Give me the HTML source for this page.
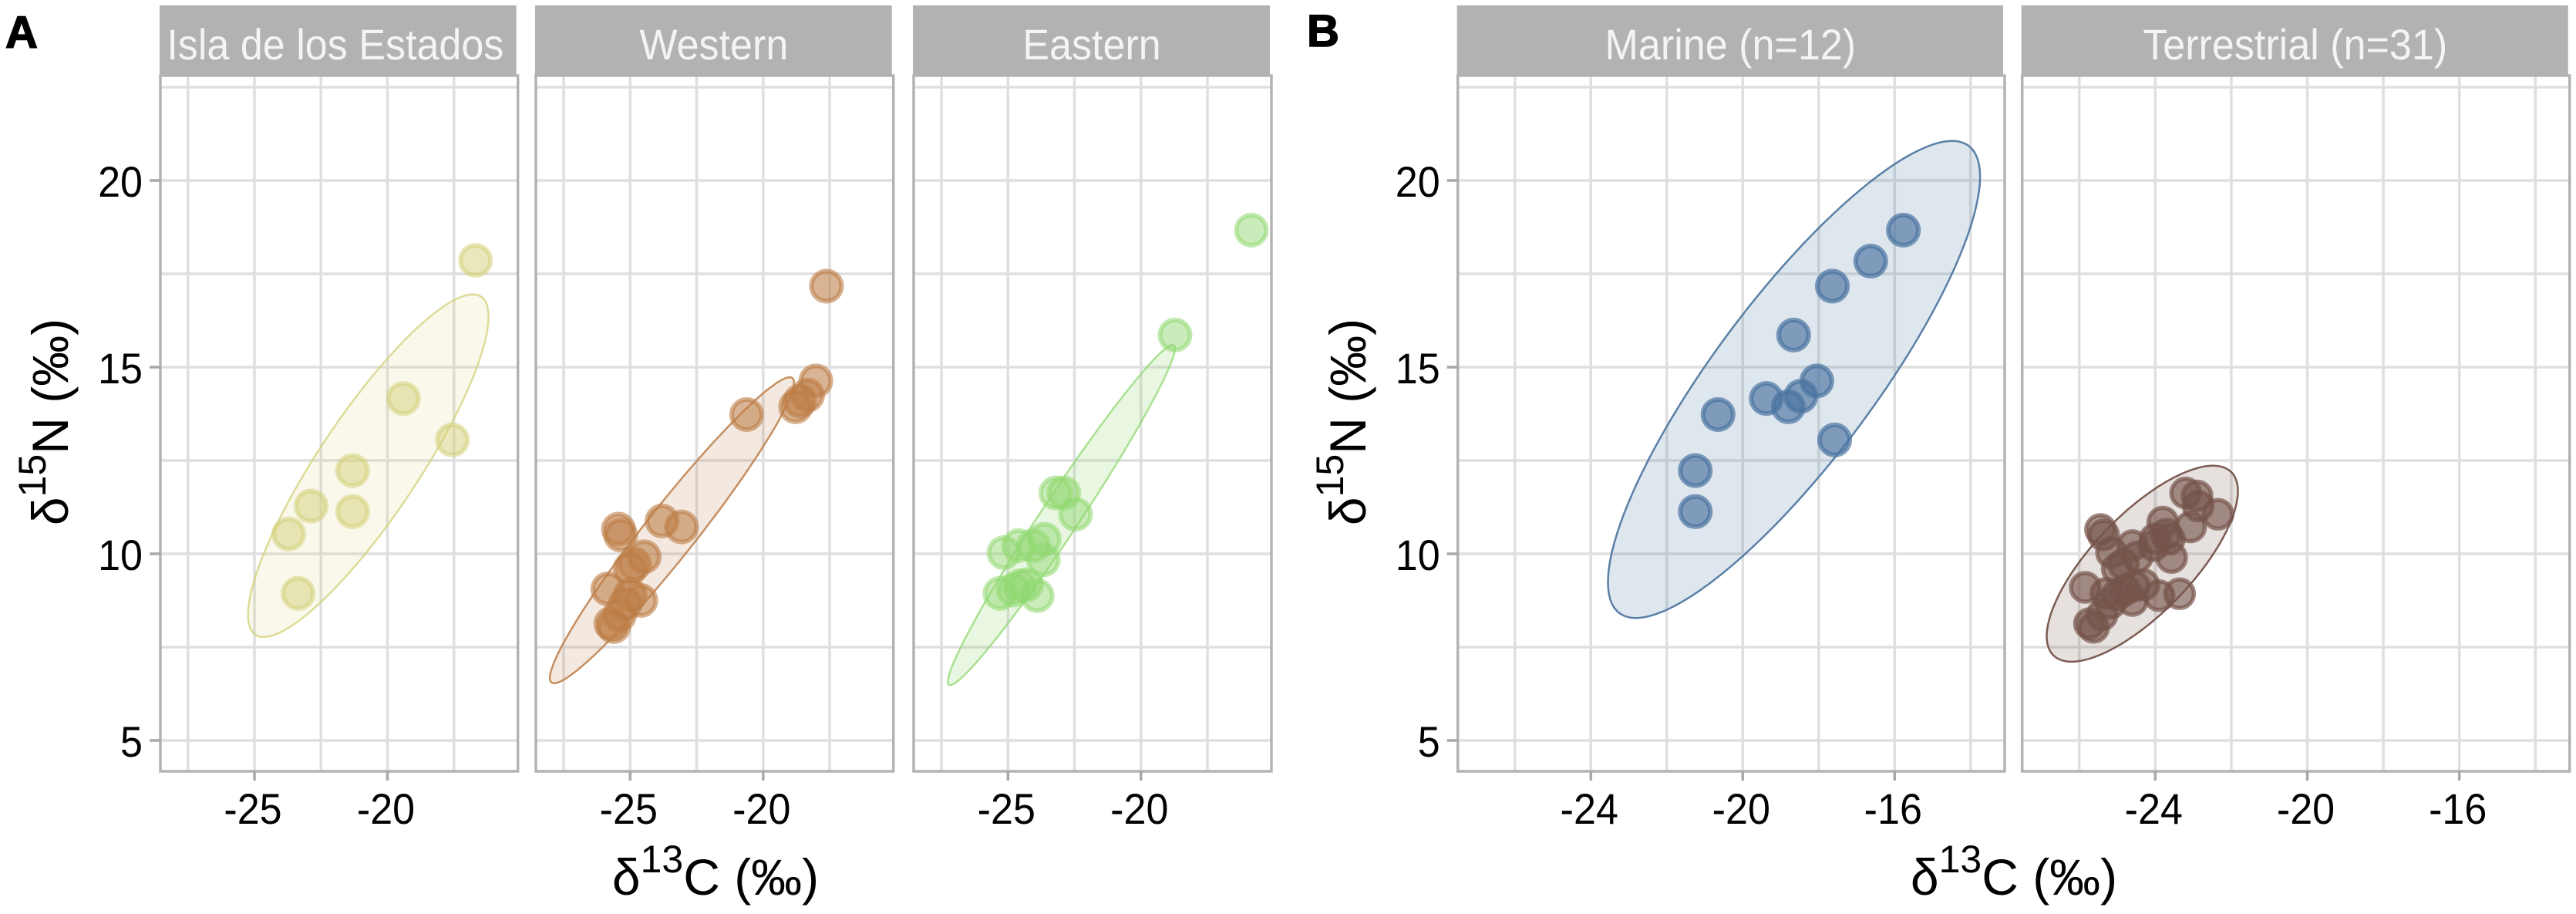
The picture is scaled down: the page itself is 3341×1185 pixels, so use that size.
<!DOCTYPE html>
<html>
<head>
<meta charset="utf-8">
<title>Stable isotope biplots</title>
<style>
html,body{margin:0;padding:0;background:#fff;}
svg{display:block;}
text{font-family:"Liberation Sans",sans-serif;}
</style>
</head>
<body>
<svg id="chart" xmlns="http://www.w3.org/2000/svg" width="3341" height="1185" viewBox="0 0 3341 1185">
<rect x="0" y="0" width="3341" height="1185" fill="#fff"/>
<g id="plots"></g>
<text x="7" y="62" font-size="58" font-weight="bold" fill="#000" stroke="#000" stroke-width="1.5">A</text>
<text x="1695" y="60" font-size="58" font-weight="bold" fill="#000" stroke="#000" stroke-width="1.5">B</text>
<text transform="translate(88,547) rotate(-90)" text-anchor="middle" font-size="66" fill="#000">δ<tspan font-size="50" dy="-29">15</tspan><tspan dy="29">N (‰)</tspan></text>
<text transform="translate(1771,547) rotate(-90)" text-anchor="middle" font-size="66" fill="#000">δ<tspan font-size="50" dy="-29">15</tspan><tspan dy="29">N (‰)</tspan></text>
<text x="928" y="1160" text-anchor="middle" font-size="66" fill="#000">δ<tspan font-size="50" dy="-29">13</tspan><tspan dy="29">C (‰)</tspan></text>
<text x="2612" y="1160" text-anchor="middle" font-size="66" fill="#000">δ<tspan font-size="50" dy="-29">13</tspan><tspan dy="29">C (‰)</tspan></text>
</svg>
<script>
// Data (per mil)
const islaC = [-16.69,-19.4,-17.56,-21.31,-21.31,-22.87,-23.71,-23.36];
const islaN = [17.86,14.16,13.05,12.23,11.13,11.28,10.53,8.94];
const islaEllipse = [-20.72,12.36,4.52,4.59,0.87];

const westernC = [-17.62,-18.02,-18.33,-18.62,-18.78,-20.62,-23.8,-23.07,-25.44,-25.36,-24.47,-24.84,-25,-25.84,-24.6,-25,-25.18,-25.4,-25.73,-25.62];
const westernN = [17.17,14.63,14.25,14.09,13.94,13.73,10.88,10.72,10.66,10.5,9.92,9.72,9.6,9.06,8.75,8.9,8.67,8.36,8.13,8.05];
const westernEllipse = [-23.43,10.63,4.59,4.1,0.965];

const easternC = [-15.85,-18.72,-23.2,-22.9,-22.46,-25.15,-24.6,-24.04,-23.63,-23.67,-25.3,-24.8,-24.55,-24.3,-23.9];
const easternN = [18.67,15.86,11.63,11.63,11.06,10.03,10.22,10.22,10.39,9.84,8.94,9.03,9.14,9.17,8.88];
const easternEllipse = [-22.99,11.04,4.27,4.56,0.98];

const marineC = [-15.77,-16.63,-17.64,-18.66,-18.05,-18.47,-18.8,-19.38,-20.65,-17.58,-21.25,-21.25];
const marineN = [18.67,17.84,17.17,15.86,14.63,14.22,13.94,14.16,13.73,13.05,12.23,11.13];
const marineEllipse = [-18.65,14.67,4.9,6.39,0.85];

const terrestrialC = [-22.87,-23.71,-23.36,-23.8,-23.07,-25.44,-25.36,-24.47,-24.84,-25,-25.84,-24.6,-25,-25.18,-25.4,-25.73,-25.62,-23.2,-22.9,-22.35,-25.15,-24.6,-24.04,-23.63,-23.57,-25.3,-24.8,-24.55,-24.3,-23.9,-24.0];
const terrestrialN = [11.28,10.53,8.93,10.85,10.72,10.65,10.5,9.92,9.72,9.6,9.1,8.75,8.9,8.67,8.36,8.13,8.03,11.63,11.55,11.06,10.03,10.22,10.22,10.39,9.9,8.94,9.03,9.14,9.17,8.88,10.4];
const terrestrialEllipse = [-24.34,9.735,2.515,2.625,0.74];

const yBreaks = [5,10,15,20];
const yMinor = [7.5,12.5,17.5,22.5];
const xBreaksA = [-25,-20];
const xMinorA = [-27.5,-22.5,-17.5];
const xBreaksB = [-24,-20,-16];
const xMinorB = [-26,-22,-18,-14];

const stripLabels = ["Isla de los Estados","Western","Eastern","Marine (n=12)","Terrestrial (n=31)"];
const slugs = ["isla","western","eastern","marine","terrestrial"];

const SVGNS = "http://www.w3.org/2000/svg";
const root = document.getElementById("plots");
const TOP = 98, BOTTOM = 1000, STRIP_TOP = 7;
const GRID = "#dfdfdf", BORDER = "#b3b3b3", TICK = "#a8a8a8";
const LABEL_SX = 0.93;

function yScale(v){ return 960 - (v - 5) * 48.4; }

function mk(tag, attrs, parent){
  const el = document.createElementNS(SVGNS, tag);
  for (const k in attrs) el.setAttribute(k, attrs[k]);
  parent.appendChild(el);
  return el;
}

function drawPanel(i, layout, xs, ys, ell, color, style, xBreaks, xMinor, showY){
  const xScale = v => layout.refPx + (v - layout.ref) * layout.k;
  const g = mk("g", {}, root);
  
  

  xMinor.concat(xBreaks).forEach(v => {
    const l = mk("line", {x1:xScale(v), x2:xScale(v), y1:TOP, y2:BOTTOM, stroke:GRID, "stroke-width":3.5}, g);
    
    
  });
  yMinor.concat(yBreaks).forEach(v => {
    const l = mk("line", {x1:layout.left, x2:layout.right, y1:yScale(v), y2:yScale(v), stroke:GRID, "stroke-width":3.5}, g);
    
    
  });

  // Ellipse from centre, half-extents and correlation
  let d = "";
  const phi = Math.acos(ell[4]);
  for (let s = 0; s <= 120; s++){
    const t = s / 120 * 2 * Math.PI;
    const ex = ell[0] + ell[2] * Math.cos(t);
    const ey = ell[1] + ell[3] * Math.cos(t - phi);
    d += (s ? "L" : "M") + xScale(ex).toFixed(1) + " " + yScale(ey).toFixed(1);
  }
  const e = mk("path", {d:d + "Z", fill:color, "fill-opacity":style.ellA, stroke:color, "stroke-width":2.5, "stroke-opacity":style.ellS}, g);
  
  

  xs.forEach((x, j) => {
    const c = mk("circle", {cx:xScale(x), cy:yScale(ys[j]), r:style.r, fill:color, "fill-opacity":style.ptA, stroke:color, "stroke-opacity":style.strokeA, "stroke-width":style.sw}, g);
    
    
  });

  const b = mk("rect", {x:layout.left, y:TOP, width:layout.right - layout.left, height:BOTTOM - TOP, fill:"none", stroke:BORDER, "stroke-width":3.5}, g);
  
  

  const st = mk("rect", {x:layout.left - 1, y:STRIP_TOP, width:layout.right - layout.left - 1, height:TOP - STRIP_TOP, fill:"#b2b2b2"}, g);
  
  

  const sl = mk("text", {transform:"translate(" + ((layout.left + layout.right - 2) / 2 + (layout.stripShift || 0)) + ",77) scale(" + LABEL_SX + ",1)", "text-anchor":"middle", "font-size":56, fill:"#f4f4f4"}, g);
  
  
  sl.textContent = stripLabels[i];

  xBreaks.forEach(v => {
    const t = mk("line", {x1:xScale(v), x2:xScale(v), y1:BOTTOM, y2:1012, stroke:TICK, "stroke-width":3.5}, g);
    
    
    const tl = mk("text", {transform:"translate(" + (xScale(v) - 2) + ",1068) scale(" + LABEL_SX + ",1)", "text-anchor":"middle", "font-size":56, fill:"#000"}, g);
    
    
    tl.textContent = String(v);
  });

  if (showY) yBreaks.forEach(v => {
    const t = mk("line", {x1:layout.left - 14, x2:layout.left, y1:yScale(v), y2:yScale(v), stroke:TICK, "stroke-width":3.5}, g);
    
    
    const tl = mk("text", {transform:"translate(" + (layout.left - 23) + "," + (yScale(v) + 21) + ") scale(" + LABEL_SX + ",1)", "text-anchor":"end", "font-size":56, fill:"#000"}, g);
    
    
    tl.textContent = String(v);
  });
}

drawPanel(0, {left:208, right:671.7, ref:-25, refPx:330, k:34.5, stripShift:-4}, islaC, islaN, islaEllipse, "#d4d07a", {r:19.5, sw:6, ptA:0.5, strokeA:0.55, ellA:0.15, ellS:0.75}, xBreaksA, xMinorA, true);
drawPanel(1, {left:695, right:1158.7, ref:-25, refPx:817.3, k:34.5}, westernC, westernN, westernEllipse, "#bd7d46", {r:19.5, sw:6, ptA:0.58, strokeA:0.6, ellA:0.17, ellS:0.85}, xBreaksA, xMinorA, false);
drawPanel(2, {left:1185, right:1649, ref:-25, refPx:1307.3, k:34.5}, easternC, easternN, easternEllipse, "#90d870", {r:19.5, sw:6, ptA:0.48, strokeA:0.55, ellA:0.2, ellS:0.75}, xBreaksA, xMinorA, false);
drawPanel(3, {left:1890.7, right:2600, ref:-24, refPx:2063.3, k:49.25}, marineC, marineN, marineEllipse, "#4a739f", {r:19.5, sw:6, ptA:0.65, strokeA:0.7, ellA:0.18, ellS:0.9}, xBreaksB, xMinorB, true);
drawPanel(4, {left:2622.7, right:3332.7, ref:-24, refPx:2795.3, k:49.3}, terrestrialC, terrestrialN, terrestrialEllipse, "#75544a", {r:18.5, sw:5.5, ptA:0.62, strokeA:0.7, ellA:0.18, ellS:0.95}, xBreaksB, xMinorB, false);
</script>
</body>
</html>
